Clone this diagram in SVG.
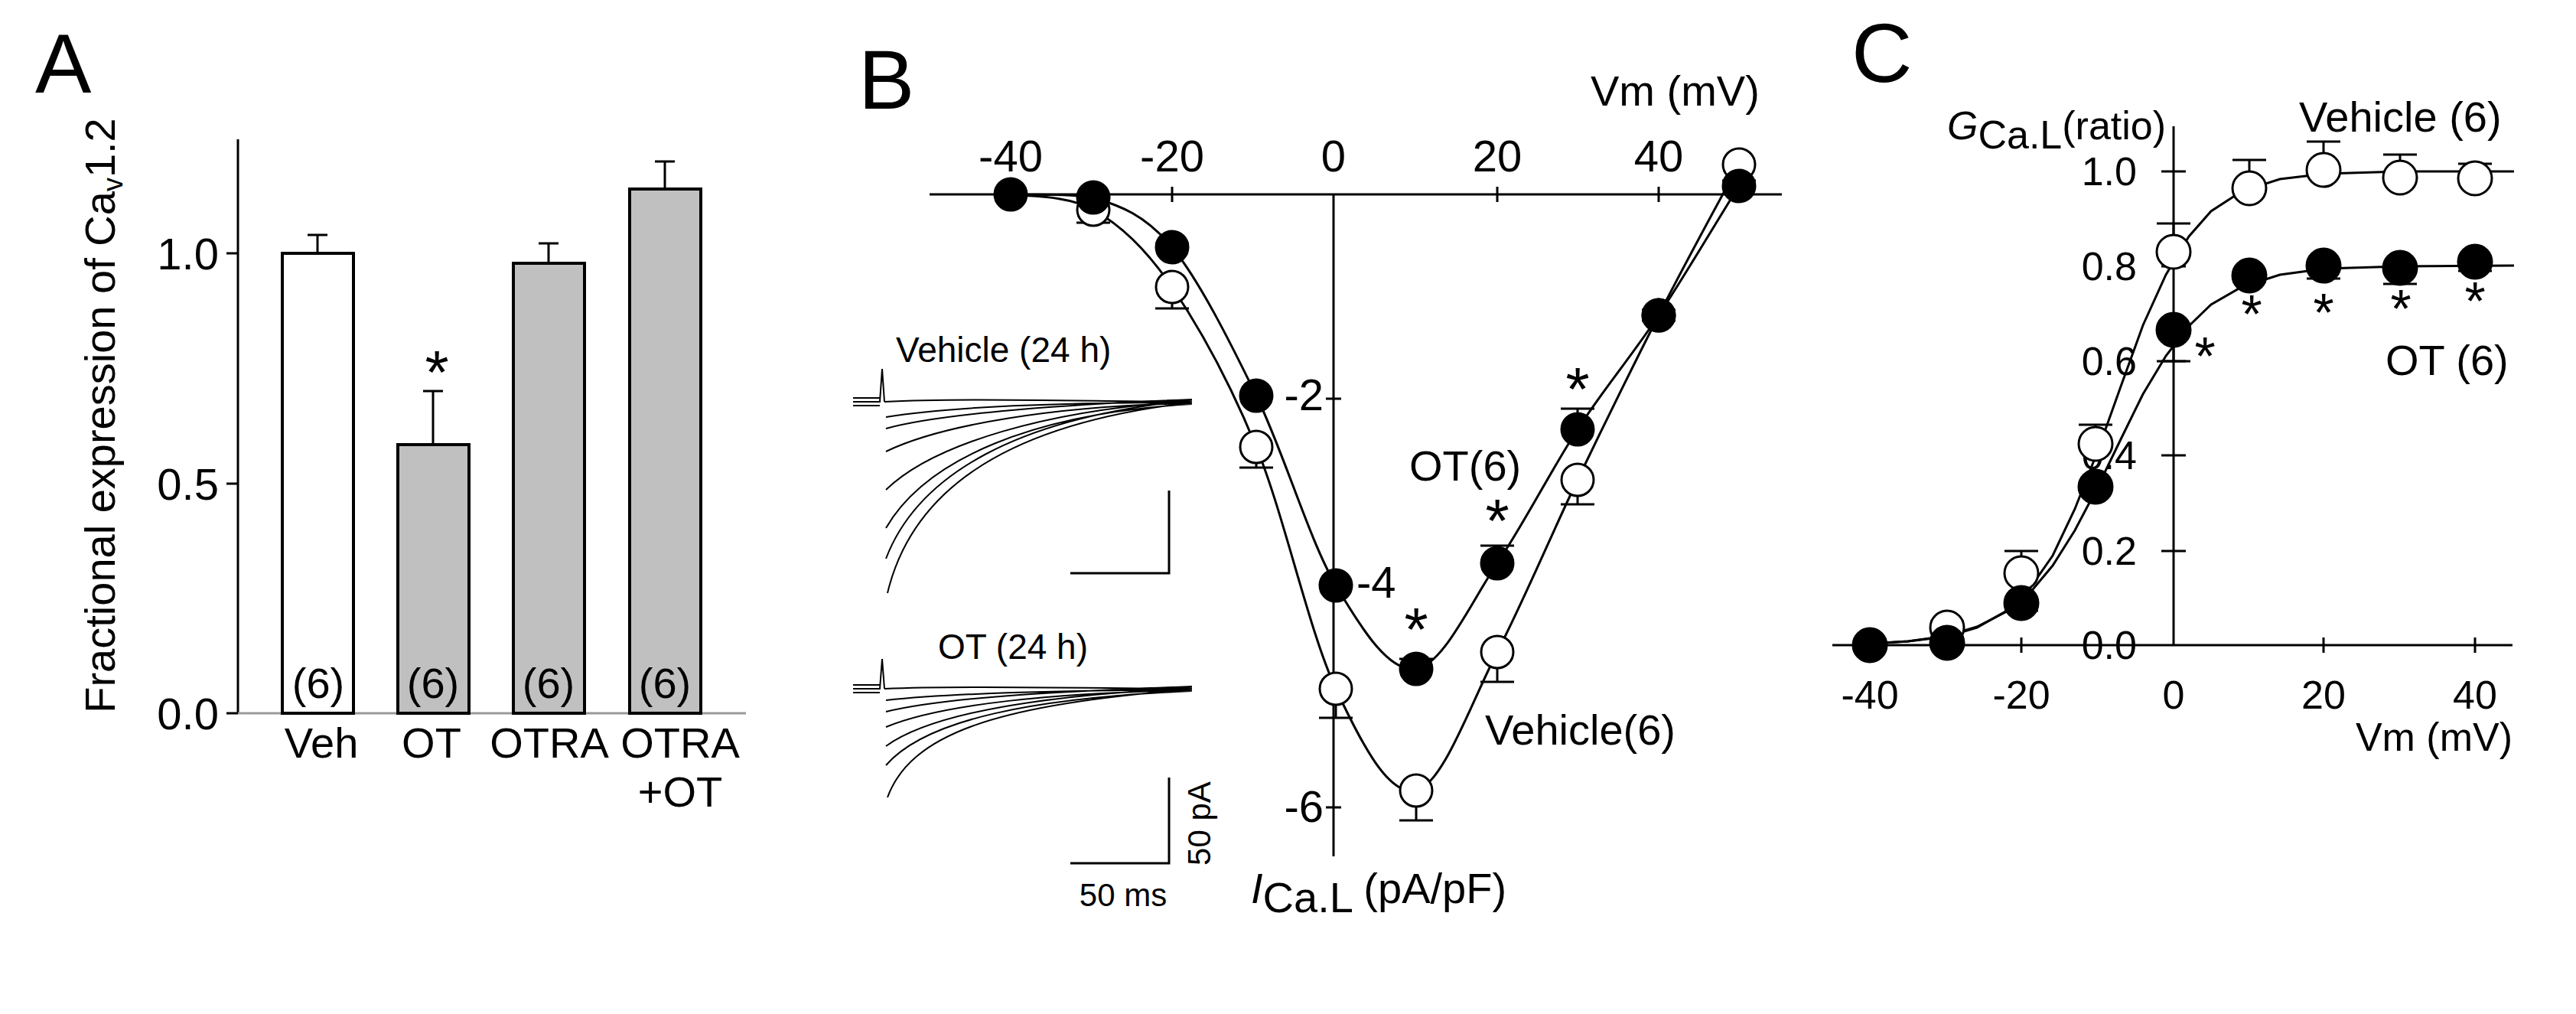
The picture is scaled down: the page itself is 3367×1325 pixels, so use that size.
<svg xmlns="http://www.w3.org/2000/svg" width="3367" height="1325" viewBox="0 0 3367 1325">
<style>
text{font-family:"Liberation Sans",Arial,sans-serif;fill:#000}
.ln{stroke:#000;stroke-width:3;fill:none}
.bar{stroke:#000;stroke-width:4}
.o{fill:#fff;stroke:#000;stroke-width:3}
.f{fill:#000;stroke:#000;stroke-width:3}
.tr{stroke:#000;stroke-width:2;fill:none}
.big{font-size:110px}
.tk{font-size:58px}
.tkc{font-size:52px}
.lab{font-size:56px}
.ast{font-size:80px}
.astc{font-size:70px}
</style>
<rect width="3367" height="1325" fill="#fff"/>

<g id="panelA">
<text class="big" x="46" y="121">A</text>
<line class="ln" x1="311" y1="182" x2="311" y2="932"/>
<line x1="311" y1="932" x2="975" y2="932" stroke="#999" stroke-width="3"/>
<path class="ln" d="M296,331H311M296,632H311M296,932H311"/>
<g class="tk" text-anchor="end"><text x="286" y="352">1.0</text><text x="286" y="653">0.5</text><text x="286" y="953">0.0</text></g>
<text class="lab" transform="translate(150,543) rotate(-90)" text-anchor="middle">Fractional expression of Ca<tspan font-size="36" dy="10">v</tspan><tspan dy="-10">1.2</tspan></text>
<path class="ln" d="M415,331V307M402,307H428M566,581V511M553,511H579M717,344V318M704,318H730M869,247V211M856,211H882"/>
<rect class="bar" x="369" y="331" width="93" height="601" fill="#fff"/>
<rect class="bar" x="520" y="581" width="93" height="351" fill="#c0c0c0"/>
<rect class="bar" x="671" y="344" width="93" height="588" fill="#c0c0c0"/>
<rect class="bar" x="823" y="247" width="93" height="685" fill="#c0c0c0"/>
<text class="ast" x="571" y="514" text-anchor="middle">*</text>
<g class="lab" text-anchor="middle"><text x="416" y="912">(6)</text><text x="566" y="912">(6)</text><text x="717" y="912">(6)</text><text x="869" y="912">(6)</text>
<text x="420" y="990">Veh</text><text x="564" y="990">OT</text><text x="718" y="990">OTRA</text><text x="889" y="990">OTRA</text><text x="889" y="1054">+OT</text></g>
</g>

<g id="panelB">
<text class="big" x="1122" y="142">B</text>
<line class="ln" x1="1215" y1="254" x2="2329" y2="254"/>
<line class="ln" x1="1743" y1="254" x2="1743" y2="1119"/>
<path class="ln" d="M1532,244V264M1957,244V264M2168,244V264M1733,521H1753M1733,762H1753M1733,1055H1753"/>
<g class="tk" text-anchor="middle"><text x="1321" y="224">-40</text><text x="1532" y="224">-20</text><text x="1743" y="224">0</text><text x="1957" y="224">20</text><text x="2168" y="224">40</text></g>
<g class="tk"><text x="1730" y="536" text-anchor="end">-2</text><text x="1773" y="781">-4</text><text x="1730" y="1074" text-anchor="end">-6</text></g>
<text class="lab" x="2079" y="138">Vm (mV)</text>
<text class="lab" x="1635" y="1180"><tspan font-style="italic">I</tspan><tspan dy="12">Ca.L</tspan><tspan dy="-12"> (pA/pF)</tspan></text>
<path class="ln" d="M1321,254C1339,257 1394,254 1429,274C1464,294 1496,323 1532,375C1567,427 1606,496 1642,584C1678,671 1711,825 1746,900C1781,975 1816,1041 1851,1033C1886,1025 1922,920 1957,852C1992,784 2027,700 2062,627C2097,554 2133,481 2168,412C2203,343 2255,248 2273,215"/>
<path class="ln" d="M1321,254C1339,255 1394,252 1429,258C1464,269 1496,280 1532,323C1567,366 1606,443 1642,517C1678,591 1711,705 1746,765C1781,824 1816,879 1851,874C1886,869 1922,788 1957,736C1992,684 2027,615 2062,561C2097,507 2133,465 2168,412C2203,359 2255,271 2273,243"/>
<path class="ln" d="M1429,274V291M1407,291H1451M1532,375V403M1510,403H1554M1642,584V611M1620,611H1664M1746,900V938M1724,938H1768M1851,1033V1072M1829,1072H1873M1957,852V891M1935,891H1979M2062,627V659M2040,659H2084M1532,323V318M1510,318H1554M1851,874V861M1829,861H1873M1957,736V713M1935,713H1979M2062,561V534M2040,534H2084M2168,412V405M2146,405H2190M2168,412V419M2146,419H2190M2273,243V236M2251,236H2295"/>
<circle class="o" cx="1429" cy="274" r="21"/><circle class="o" cx="1532" cy="375" r="21"/><circle class="o" cx="1642" cy="584" r="21"/><circle class="o" cx="1746" cy="900" r="21"/><circle class="o" cx="1851" cy="1033" r="21"/><circle class="o" cx="1957" cy="852" r="21"/><circle class="o" cx="2062" cy="627" r="21"/><circle class="o" cx="2168" cy="412" r="21"/><circle class="o" cx="2273" cy="215" r="21"/>
<circle class="f" cx="1321" cy="254" r="21"/><circle class="f" cx="1429" cy="258" r="21"/><circle class="f" cx="1532" cy="323" r="21"/><circle class="f" cx="1642" cy="517" r="21"/><circle class="f" cx="1746" cy="765" r="21"/><circle class="f" cx="1851" cy="874" r="21"/><circle class="f" cx="1957" cy="736" r="21"/><circle class="f" cx="2062" cy="561" r="21"/><circle class="f" cx="2168" cy="412" r="21"/><circle class="f" cx="2273" cy="243" r="21"/>
<g class="ast" text-anchor="middle"><text x="1851" y="850">*</text><text x="1957" y="708">*</text><text x="2062" y="536">*</text></g>
<text class="lab" x="1842" y="628">OT(6)</text>
<text class="lab" x="1941" y="973">Vehicle(6)</text>
<text font-size="46" x="1171" y="473">Vehicle (24 h)</text>
<path class="tr" d="M1115,525H1150L1153,482L1156,525M1115,520H1150M1115,530H1150"/>
<path class="tr" d="M1156,525C1250,520 1400,524 1558,525M1158,545C1250,530 1400,526 1558,526M1158,560C1230,540 1400,528 1558,522M1158,590C1230,555 1380,530 1558,527M1158,640C1220,580 1370,535 1558,524M1158,690C1210,600 1350,540 1558,528M1158,730C1200,620 1330,545 1558,523M1160,775C1190,650 1300,555 1558,526"/>
<path class="ln" d="M1528,641V749H1399"/>
<text font-size="46" x="1226" y="861">OT (24 h)</text>
<path class="tr" d="M1115,900H1150L1153,861L1156,900M1115,895H1150M1115,905H1150"/>
<path class="tr" d="M1156,900C1250,896 1400,899 1558,900M1158,915C1250,905 1400,902 1558,901M1158,930C1240,910 1400,903 1558,897M1158,950C1230,920 1380,905 1558,902M1158,975C1220,930 1370,908 1558,899M1158,1000C1210,940 1350,912 1558,903M1160,1042C1190,960 1300,920 1558,901"/>
<path class="ln" d="M1528,1016V1128H1399"/>
<text font-size="42" x="1468" y="1184" text-anchor="middle">50 ms</text>
<text font-size="42" transform="translate(1582,1076) rotate(-90)" text-anchor="middle">50 pA</text>
</g>

<g id="panelC">
<text class="big" x="2420" y="107">C</text>
<line class="ln" x1="2841" y1="165" x2="2841" y2="843"/>
<line class="ln" x1="2395" y1="843" x2="3284" y2="843"/>
<path class="ln" d="M2825,224H2857M2825,348H2857M2825,472H2857M2825,595H2857M2825,720H2857M2642,833V853M3037,833V853M3235,833V853"/>
<g class="tkc" text-anchor="end"><text x="2793" y="242">1.0</text><text x="2793" y="366">0.8</text><text x="2793" y="490">0.6</text><text x="2793" y="613">0.4</text><text x="2793" y="738">0.2</text><text x="2793" y="861">0.0</text></g>
<g class="tkc" text-anchor="middle"><text x="2444" y="926">-40</text><text x="2642" y="926">-20</text><text x="2841" y="926">0</text><text x="3037" y="926">20</text><text x="3235" y="926">40</text></g>
<text class="tkc" x="3284" y="981" text-anchor="end">Vm (mV)</text>
<text class="tkc" x="2545" y="182"><tspan font-style="italic">G</tspan><tspan dy="12">Ca.L</tspan><tspan dy="-12">(ratio)</tspan></text>
<text class="lab" x="3005" y="172">Vehicle (6)</text>
<text class="lab" x="3118" y="490">OT (6)</text>
<polyline class="ln" points="2445,841 2494,838 2544,832 2584,820 2623,798 2653,769 2683,726 2712,665 2742,589 2772,505 2801,425 2831,359 2861,309 2890,276 2930,250 2980,234 3039,227 3138,224 3286,224"/>
<polyline class="ln" points="2445,841 2494,838 2544,831 2584,819 2623,799 2653,775 2683,739 2712,693 2742,636 2772,574 2801,515 2831,465 2861,426 2890,398 2930,375 2980,359 3039,351 3138,348 3286,347"/>
<path class="ln" d="M2545,820V812M2523,812H2567M2642,749V720M2620,720H2664M2739,580V555M2717,555H2761M2841,329V292M2819,292H2863M2940,246V209M2918,209H2962M3037,222V185M3015,185H3059M3137,232V202M3115,202H3159M3235,233V214M3213,214H3257M2642,788V798M2620,798H2664M2739,636V642M2717,642H2761M2841,431V472M2819,472H2863M2940,360V368M2918,368H2962M3037,347V364M3015,364H3059M3137,350V371M3115,371H3159M3235,342V354M3213,354H3257"/>
<circle class="o" cx="2545" cy="820" r="22"/><circle class="o" cx="2642" cy="749" r="22"/><circle class="o" cx="2739" cy="580" r="22"/><circle class="o" cx="2841" cy="329" r="22"/><circle class="o" cx="2940" cy="246" r="22"/><circle class="o" cx="3037" cy="222" r="22"/><circle class="o" cx="3137" cy="232" r="22"/><circle class="o" cx="3235" cy="233" r="22"/>
<circle class="f" cx="2444" cy="843" r="22"/><circle class="f" cx="2545" cy="840" r="22"/><circle class="f" cx="2642" cy="788" r="22"/><circle class="f" cx="2739" cy="636" r="22"/><circle class="f" cx="2841" cy="431" r="22"/><circle class="f" cx="2940" cy="360" r="22"/><circle class="f" cx="3037" cy="347" r="22"/><circle class="f" cx="3137" cy="350" r="22"/><circle class="f" cx="3235" cy="342" r="22"/>
<g class="astc" text-anchor="middle"><text x="2882" y="490">*</text><text x="2943" y="435">*</text><text x="3037" y="433">*</text><text x="3138" y="428">*</text><text x="3235" y="418">*</text></g>
</g>
</svg>
